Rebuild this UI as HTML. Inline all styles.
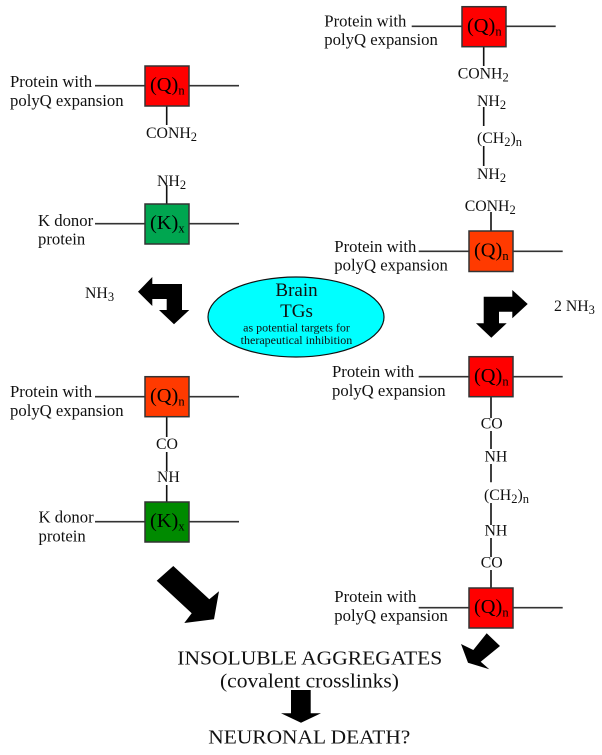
<!DOCTYPE html>
<html><head><meta charset="utf-8">
<style>
html,body{margin:0;padding:0;background:#fff;width:602px;height:755px;overflow:hidden}
svg{display:block;filter:blur(0.35px)}
text{font-family:"Liberation Serif",serif;fill:#111;font-size:16.7px}
.s{font-size:12.5px}
.b{font-size:20.4px;fill:#000}
.f{font-size:15.8px}
.box{stroke:#333;stroke-width:1.5}
.l{stroke:#333;stroke-width:1.6;fill:none}
.v{stroke:#111;stroke-width:1.6;fill:none}
</style></head><body>
<svg width="602" height="755" viewBox="0 0 602 755" xmlns="http://www.w3.org/2000/svg">
<!-- lines -->
<path class="l" d="M95 85.7H239M95 223.7H239M95 396.7H239M95 521.7H239M411.7 26.3H555.7M418.7 251.3H562.7M418.7 376.7H562.7M418.7 607.7H562.7"/>
<path class="v" d="M166.7 106V125M166.7 185V204M166.7 416.700V437M166.7 452V471M166.7 485V502M483.7 46.7V66M483.7 107V126M483.7 146V166M491 212V231M491 396.700V418M491 431V449M491 464V482.300M491 503V525M491 538V557M491 570V588"/>
<!-- boxes -->
<rect class="box" x="145" y="66" width="44" height="40" fill="#ff0000"/>
<rect class="box" x="145" y="204" width="44" height="40" fill="#00a650"/>
<rect class="box" x="145" y="376.7" width="44" height="40" fill="#ff3a00"/>
<rect class="box" x="145" y="502" width="44" height="40" fill="#008a00"/>
<rect class="box" x="462" y="6.7" width="44" height="40" fill="#ff0000"/>
<rect class="box" x="469" y="231" width="44" height="40.5" fill="#ff3a00"/>
<rect class="box" x="469" y="356.7" width="44" height="40" fill="#ff0000"/>
<rect class="box" x="469" y="588" width="44" height="40" fill="#ff0000"/>
<!-- box labels -->
<text class="b" x="150" y="91">(Q)<tspan class="s" dy="3.500">n</tspan></text>
<text class="b" x="150" y="229">(K)<tspan class="s" dy="3.500">x</tspan></text>
<text class="b" x="150" y="402">(Q)<tspan class="s" dy="3.500">n</tspan></text>
<text class="b" x="150" y="527">(K)<tspan class="s" dy="3.500">x</tspan></text>
<text class="b" x="467" y="32">(Q)<tspan class="s" dy="3.500">n</tspan></text>
<text class="b" x="474" y="256.5">(Q)<tspan class="s" dy="3.500">n</tspan></text>
<text class="b" x="474" y="382">(Q)<tspan class="s" dy="3.500">n</tspan></text>
<text class="b" x="474" y="613">(Q)<tspan class="s" dy="3.500">n</tspan></text>
<!-- protein labels -->
<text x="10" y="87">Protein with</text><text x="10" y="106">polyQ expansion</text>
<text x="38" y="226">K donor</text><text x="38" y="244.500">protein</text>
<text x="10" y="397">Protein with</text><text x="10" y="416">polyQ expansion</text>
<text x="38.500" y="522.500">K donor</text><text x="38.500" y="541.500">protein</text>
<text x="324.300" y="26.500">Protein with</text><text x="324.300" y="45">polyQ expansion</text>
<text x="334.300" y="252">Protein with</text><text x="334.300" y="270.500">polyQ expansion</text>
<text x="332" y="377">Protein with</text><text x="332" y="396">polyQ expansion</text>
<text x="334.300" y="602">Protein with</text><text x="334.300" y="621">polyQ expansion</text>
<!-- chemistry labels -->
<text class="f" x="146" y="138">CONH<tspan class="s" dy="3">2</tspan></text>
<text class="f" x="157" y="186">NH<tspan class="s" dy="3">2</tspan></text>
<text class="f" x="85" y="298">NH<tspan class="s" dy="3">3</tspan></text>
<text class="f" x="156" y="449">CO</text>
<text class="f" x="157" y="482">NH</text>
<text class="f" x="457.700" y="78.700">CONH<tspan class="s" dy="3">2</tspan></text>
<text class="f" x="477" y="106">NH<tspan class="s" dy="3">2</tspan></text>
<text class="f" x="477" y="143">(CH<tspan class="s" dy="3">2</tspan><tspan dy="-3">)</tspan><tspan class="s" dy="3">n</tspan></text>
<text class="f" x="477" y="179">NH<tspan class="s" dy="3">2</tspan></text>
<text class="f" x="464.700" y="211">CONH<tspan class="s" dy="3">2</tspan></text>
<text class="f" x="554" y="311">2 NH<tspan class="s" dy="3">3</tspan></text>
<text class="f" x="480.700" y="428.300">CO</text>
<text class="f" x="484.500" y="461.700">NH</text>
<text class="f" x="484" y="500">(CH<tspan class="s" dy="3">2</tspan><tspan dy="-3">)</tspan><tspan class="s" dy="3">n</tspan></text>
<text class="f" x="484.500" y="535.700">NH</text>
<text class="f" x="480.700" y="567.300">CO</text>
<!-- ellipse -->
<ellipse cx="296" cy="317" rx="88" ry="40" fill="#00ffff" stroke="#111" stroke-width="1.2"/>
<text x="296.500" y="296" text-anchor="middle" style="font-size:19px">Brain</text>
<text x="296.500" y="317" text-anchor="middle" style="font-size:19px">TGs</text>
<text x="296.500" y="331.500" text-anchor="middle" style="font-size:12px">as potential targets for</text>
<text x="296.500" y="344" text-anchor="middle" style="font-size:12px">therapeutical inhibition</text>
<!-- arrows -->
<polygon fill="#000" points="138,291.700 152.300,277 152.300,284 182,284 182,310 189.300,310 174,324.300 159,310 166.700,310 166.700,299 152.300,299 152.300,306"/>
<polygon fill="#000" points="527.700,304 512.300,290 512.300,296.700 483.700,296.700 483.700,323.300 476,323.300 491.300,337.700 506.700,323.300 499,323.300 499,311.700 512.300,311.700 512.300,318.300"/>
<polygon fill="#000" points="173.300,566 156.700,580.700 191.700,613.300 184.300,623 214,619.300 219,591.300 209.300,599.300"/>
<polygon fill="#000" points="486.700,633.300 500,646 480.700,661.700 489.300,669.300 468,662.700 461,644 473.300,650"/>
<polygon fill="#000" points="291,690 310.700,690 310.700,713.300 321,713.300 301,722.700 281,713.300 291,713.300"/>
<!-- bottom text -->
<text x="177.300" y="664.300" textLength="265" lengthAdjust="spacingAndGlyphs" style="font-size:19.500px">INSOLUBLE AGGREGATES</text>
<text x="220" y="687.700" textLength="179" lengthAdjust="spacingAndGlyphs" style="font-size:19.500px">(covalent crosslinks)</text>
<text x="208.300" y="743.300" textLength="202" lengthAdjust="spacingAndGlyphs" style="font-size:19.500px">NEURONAL DEATH?</text>
</svg>
</body></html>
